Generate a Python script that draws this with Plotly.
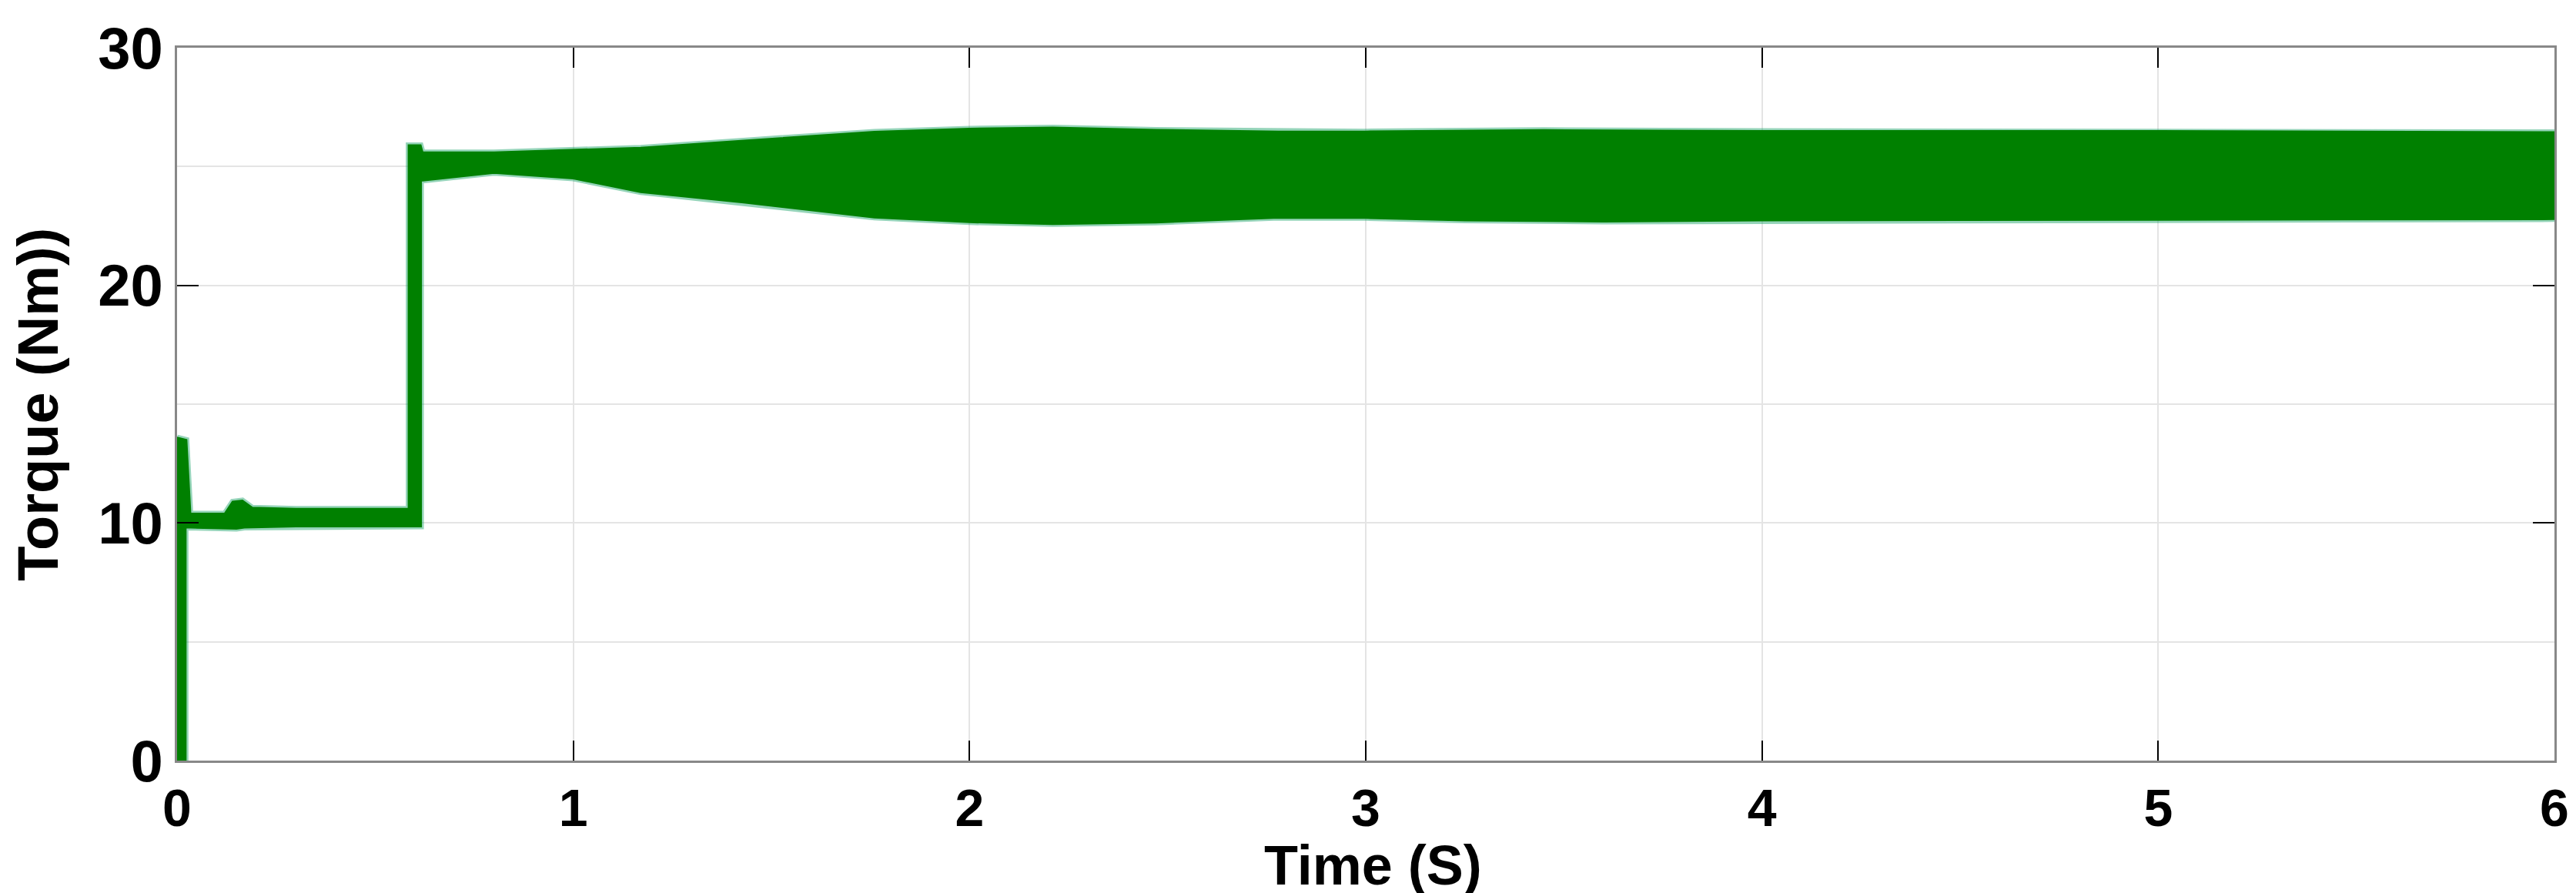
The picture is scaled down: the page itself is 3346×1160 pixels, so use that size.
import plotly.graph_objects as go

# upper edge of the torque band, left to right (t in s, torque in Nm)
t_top = [0.0, 0.024, 0.034, 0.12, 0.14, 0.165, 0.19, 0.30, 0.584, 0.584, 0.615,
         0.62, 0.80, 1.0, 1.17, 1.43, 1.76, 2.0, 2.21, 2.47, 2.78, 3.0, 3.25,
         3.45, 4.0, 5.0, 6.0]
torque_top = [13.6, 13.5, 10.4, 10.4, 10.9, 10.95, 10.65, 10.6, 10.6, 25.9, 25.9,
              25.6, 25.6, 25.7, 25.8, 26.1, 26.47, 26.6, 26.65, 26.55, 26.48, 26.48, 26.52,
              26.54, 26.5, 26.5, 26.45]

# lower edge of the band, right to left
t_bottom = [6.0, 5.0, 4.0, 3.6, 3.25, 3.0, 2.78, 2.47, 2.21, 2.0, 1.76, 1.43,
            1.17, 1.0, 0.80, 0.62, 0.616, 0.616, 0.30, 0.17, 0.15, 0.035, 0.022,
            0.022, 0.0]
torque_bottom = [22.78, 22.75, 22.73, 22.68, 22.73, 22.83, 22.84, 22.64, 22.57, 22.65, 22.85, 23.48,
                 23.92, 24.49, 24.73, 24.4, 24.4, 9.85, 9.85, 9.8, 9.75, 9.8, 9.8,
                 0.0, 0.0]

x_ticks = [0, 1, 2, 3, 4, 5, 6]
y_ticks = [0, 10, 20, 30]

colors = {
    'line': '#008000',
    'edge': 'rgba(20,160,100,0.45)',
    'grid': '#e4e4e4',
    'axis': '#888888',
    'text': '#000000',
}
font_family = 'Liberation Sans, Arial, sans-serif'

band_x = t_top + t_bottom
band_y = torque_top + torque_bottom

fig = go.Figure()

# soft lighter rim around the band (the ripple fuzz on the edges)
fig.add_trace(go.Scatter(
    x=band_x, y=band_y,
    mode='lines',
    line=dict(color=colors['edge'], width=7),
    showlegend=False,
    hoverinfo='skip',
))

# band drawn as one closed outline: top edge then bottom edge back
fig.add_trace(go.Scatter(
    x=band_x, y=band_y,
    mode='lines',
    fill='toself',
    fillcolor=colors['line'],
    line=dict(color=colors['line'], width=2),
    showlegend=False,
    hoverinfo='skip',
))

fig.update_layout(
    width=3346,
    height=1160,
    plot_bgcolor='white',
    paper_bgcolor='white',
    margin=dict(l=222, r=36, t=43, b=180),
    font=dict(family=font_family, color=colors['text']),
    showlegend=False,
)

fig.update_xaxes(
    range=[0, 6],
    tickvals=x_ticks,
    ticktext=[str(v) for v in x_ticks],
    tickfont=dict(size=68, weight='bold'),
    ticks='inside',
    ticklen=26,
    tickwidth=2,
    tickcolor='black',
    showline=True,
    linewidth=3,
    linecolor=colors['axis'],
    mirror='ticks',
    showgrid=True,
    gridcolor=colors['grid'],
    gridwidth=2,
    zeroline=False,
)

fig.update_yaxes(
    range=[0, 30],
    tickvals=y_ticks,
    ticktext=[str(v) for v in y_ticks],
    tickfont=dict(size=76, weight='bold'),
    ticks='inside',
    ticklen=28,
    tickwidth=2,
    tickcolor='black',
    showline=True,
    linewidth=3,
    linecolor=colors['axis'],
    mirror='ticks',
    showgrid=True,
    gridcolor=colors['grid'],
    gridwidth=2,
    minor=dict(dtick=5, showgrid=True, gridcolor=colors['grid'], gridwidth=2, ticks=''),
    zeroline=False,
)

# axis titles placed as annotations to sit where the original puts them
fig.add_annotation(
    text='Time (S)', xref='paper', yref='paper',
    x=0.503, y=-0.147, xanchor='center', yanchor='middle',
    showarrow=False, font=dict(size=72, weight='bold'),
)
fig.add_annotation(
    text='Torque (Nm))', xref='paper', yref='paper',
    x=-0.0587, y=0.5, xanchor='center', yanchor='middle', textangle=-90,
    showarrow=False, font=dict(size=74, weight='bold'),
)

fig.write_html("out.html")
